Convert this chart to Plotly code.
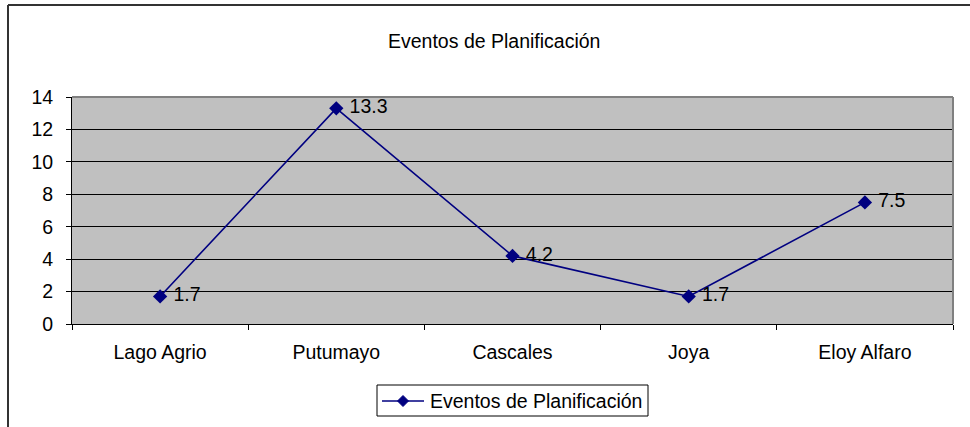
import plotly.graph_objects as go

# data
municipios = ["Lago Agrio", "Putumayo", "Cascales", "Joya", "Eloy Alfaro"]
eventos = [1.7, 13.3, 4.2, 1.7, 7.5]
serie = "Eventos de Planificación"
y_ticks = [0, 2, 4, 6, 8, 10, 12, 14]

W, H = 970, 427
L, R, T, B = 72, 953, 97, 324  # plot area in pixels

def px_x(p):
    return (p - L) / (R - L)

def px_y(p):
    return (B - p) / (B - T)

font = dict(family="Liberation Sans, Arial", size=19.5, color="black")
navy = "#000080"

fig = go.Figure()
fig.add_trace(go.Scatter(
    x=municipios, y=eventos, name=serie,
    mode="lines+markers+text",
    line=dict(color=navy, width=1.6),
    marker=dict(symbol="diamond", size=11, color=navy),
    text=[f" {v:.1f}" for v in eventos],
    textposition="middle right",
    textfont=font,
    cliponaxis=False,
    showlegend=False,
))

fig.update_layout(
    width=W, height=H,
    margin=dict(l=L, r=W - R, t=T, b=H - B),
    paper_bgcolor="white",
    plot_bgcolor="#C0C0C0",
    font=font,
    xaxis=dict(
        type="category", range=[-0.5, 4.5],
        tickson="boundaries", ticks="outside", ticklen=5,
        tickcolor="black", showgrid=False,
        showline=True, linecolor="black", linewidth=1,
        ticklabelstandoff=11,
    ),
    yaxis=dict(
        range=[0, 14], tickvals=y_ticks,
        ticks="outside", ticklen=5, tickcolor="black",
        showgrid=True, gridcolor="black", gridwidth=1,
        showline=True, linecolor="black", linewidth=1,
        zeroline=False, ticklabelstandoff=9,
    ),
)

# grey border on top and right of plot area
fig.add_shape(type="line", xref="paper", yref="paper",
              x0=0, x1=1, y0=1, y1=1, line=dict(color="#808080", width=2))
fig.add_shape(type="line", xref="paper", yref="paper",
              x0=1, x1=1, y0=0, y1=1, line=dict(color="#808080", width=2))

# chart area border (left and top visible)
fig.add_shape(type="line", xref="paper", yref="paper",
              x0=px_x(8), x1=px_x(975), y0=px_y(5), y1=px_y(5),
              line=dict(color="#333333", width=2))
fig.add_shape(type="line", xref="paper", yref="paper",
              x0=px_x(8), x1=px_x(8), y0=px_y(5), y1=px_y(440),
              line=dict(color="#333333", width=2))

fig.add_annotation(text=serie, xref="paper", yref="paper",
                   x=px_x(494), y=px_y(41), showarrow=False,
                   xanchor="center", yanchor="middle", font=font)

# legend drawn by hand (Excel style box)
fig.add_shape(type="rect", xref="paper", yref="paper",
              x0=px_x(377), x1=px_x(648), y0=px_y(385), y1=px_y(416),
              line=dict(color="black", width=1), fillcolor="white")
fig.add_shape(type="line", xref="paper", yref="paper",
              x0=px_x(382), x1=px_x(424), y0=px_y(401), y1=px_y(401),
              line=dict(color=navy, width=1.6))
cx, cy, d = 403, 401, 5.5
fig.add_shape(type="path", xref="paper", yref="paper",
              path=(f"M {px_x(cx - d)} {px_y(cy)} L {px_x(cx)} {px_y(cy - d)} "
                    f"L {px_x(cx + d)} {px_y(cy)} L {px_x(cx)} {px_y(cy + d)} Z"),
              line=dict(color=navy, width=1), fillcolor=navy)
fig.add_annotation(text=serie, xref="paper", yref="paper",
                   x=px_x(428), y=px_y(401), showarrow=False,
                   xanchor="left", yanchor="middle", font=font)

# page body has an 8px default margin; drop it so the figure sits at 0,0
fig.write_html("out.html", config={"displayModeBar": False},
               post_script="document.body.style.margin='0';")
